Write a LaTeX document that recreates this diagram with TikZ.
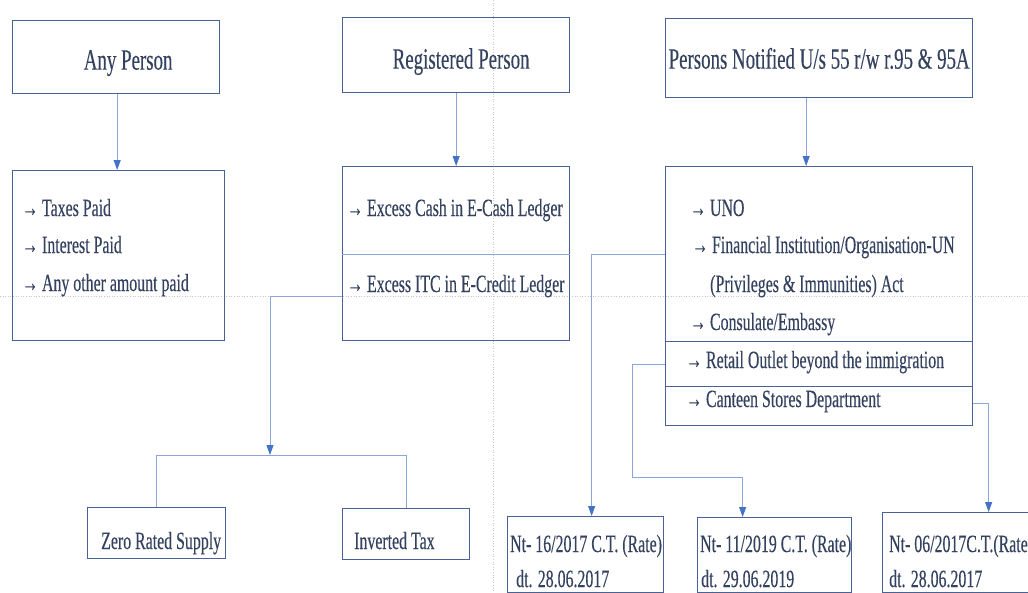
\documentclass[tikz,border=0pt]{standalone}
\usepackage{fontspec}
\setmainfont[FakeStretch=0.64,FakeBold=0.3]{Liberation Serif}
\usetikzlibrary{arrows.meta}

\definecolor{boxcol}{HTML}{4A6293}
\definecolor{txtcol}{HTML}{34425F}
\definecolor{linkcol}{HTML}{8CA6DA}
\definecolor{tipcol}{HTML}{4472C4}
\definecolor{guidecol}{HTML}{C8C8C8}

\newcommand{\titlefont}{\fontsize{29.5}{33}\selectfont}
\newcommand{\itemfont}{\fontsize{24.8}{29}\selectfont}
\newcommand{\lowered}[2]{\raisebox{#1}[0pt][0pt]{#2}}

\tikzset{
	box/.style={draw=boxcol, line width=1.3pt, inner sep=0pt, anchor=north west, text=txtcol, font=\titlefont},
	item/.style={anchor=base west, inner sep=0pt, text=txtcol, font=\itemfont},
	link/.style={draw=linkcol, line width=0.9pt},
	tip/.style={-{Triangle[width=7pt,length=10pt,color=tipcol]}},
	guide/.style={draw=guidecol, line width=0.6pt, dotted},
}

\begin{document}
\begin{tikzpicture}[x=1pt,y=-1pt]
	\useasboundingbox (0,0) rectangle (1028,592);
	
	% guides
	\draw[guide] (493,0) -- (493,592);
	\draw[guide] (0,296) -- (1028,296);
	
	% top row
	\node[box, minimum width=207pt, minimum height=73pt] (anyp) at (12,20) {\lowered{-12.5pt}{\hspace*{24pt}Any Person}};
	\node[box, minimum width=227pt, minimum height=75pt] (regp) at (342,17) {\lowered{-13.5pt}{\hspace*{10pt}Registered Person}};
	\node[box, minimum width=307pt, minimum height=79pt] (notp) at (665,18) {\lowered{-10.5pt}{Persons Notified U/s 55 r/w r.95 \& 95A}};
	
	% second row
	\node[box, minimum width=212pt, minimum height=170pt] (paid) at (12,170) {};
	\node[item] (tax) at (22,216) {→ Taxes Paid};
	\node[item] (intr) at (22,253) {→ Interest Paid};
	\node[item] (othr) at (22,291) {→ Any other amount paid};
	
	\node[box, minimum width=227pt, minimum height=174pt] (ledg) at (342,166) {};
	\draw[link] (ledg.west |- 0,254) -- (ledg.east |- 0,254);
	\node[item] (cash) at (347,216) {→ Excess Cash in E-Cash Ledger};
	\node[item] (itc) at (347,292) {→ Excess ITC in E-Credit Ledger};
	
	\node[box, minimum width=307pt, minimum height=259pt] (inst) at (665,166) {};
	\draw[link, draw=boxcol] (inst.west |- 0,341) -- (inst.east |- 0,341);
	\draw[link, draw=boxcol] (inst.west |- 0,386) -- (inst.east |- 0,386);
	\node[item] (uno) at (690,216) {→ UNO};
	\node[item] (fin) at (692,253) {→ Financial Institution/Organisation-UN};
	\node[item] (priv) at (710,292) {(Privileges \& Immunities) Act};
	\node[item] (cons) at (690,330) {→ Consulate/Embassy};
	\node[item] (retl) at (686,368) {→ Retail Outlet beyond the immigration};
	\node[item] (cant) at (686,407) {→ Canteen Stores Department};
	
	% bottom row
	\node[box, minimum width=138pt, minimum height=51pt] (zero) at (87,507) {};
	\node[item] (zerot) at (101,549) {Zero Rated Supply};
	\node[box, minimum width=127pt, minimum height=51pt] (invt) at (342,508) {};
	\node[item] (invtt) at (354,549) {Inverted Tax};
	
	\node[box, minimum width=156pt, minimum height=76pt] (nt16) at (507,516) {};
	\node[item] (nt16a) at (510,552) {Nt- 16/2017 C.T. (Rate)};
	\node[item] (nt16b) at (516,587) {dt. 28.06.2017};
	\node[box, minimum width=154pt, minimum height=75pt] (nt11) at (697,517) {};
	\node[item] (nt11a) at (700,552) {Nt- 11/2019 C.T. (Rate)};
	\node[item] (nt11b) at (701,587) {dt. 29.06.2019};
	\node[box, minimum width=170pt, minimum height=80pt] (nt06) at (882,512) {};
	\node[item] (nt06a) at (889,552) {Nt- 06/2017C.T.(Rate)};
	\node[item] (nt06b) at (889,587) {dt. 28.06.2017};
	
	% connectors
	\draw[link, tip] ([xshift=1pt]anyp.south) -- ([xshift=1pt]anyp.south |- paid.north);
	\draw[link, tip] (regp.south) -- (ledg.north);
	\draw[link, tip] ([xshift=-13pt]notp.south) -- ([xshift=-13pt]notp.south |- inst.north);
	
	\coordinate (fork) at (270,455);
	\draw[link, tip] ([yshift=-43pt]ledg.west) -| (fork);
	\draw[link] (zero.north) |- (invt.north |- fork) -- (invt.north);
	
	\coordinate (bend) at (632,477);
	\draw[link, tip] ([yshift=41.5pt]inst.west) -| ([xshift=6pt]nt16.north);
	\draw[link] ([yshift=-68.5pt]inst.west) -| (bend);
	\draw[link, tip] (bend) -| ([xshift=-32pt]nt11.north);
	\draw[link, tip] ([yshift=-107.5pt]inst.east) -| ([xshift=21pt]nt06.north);
	
\end{tikzpicture}
\end{document}
